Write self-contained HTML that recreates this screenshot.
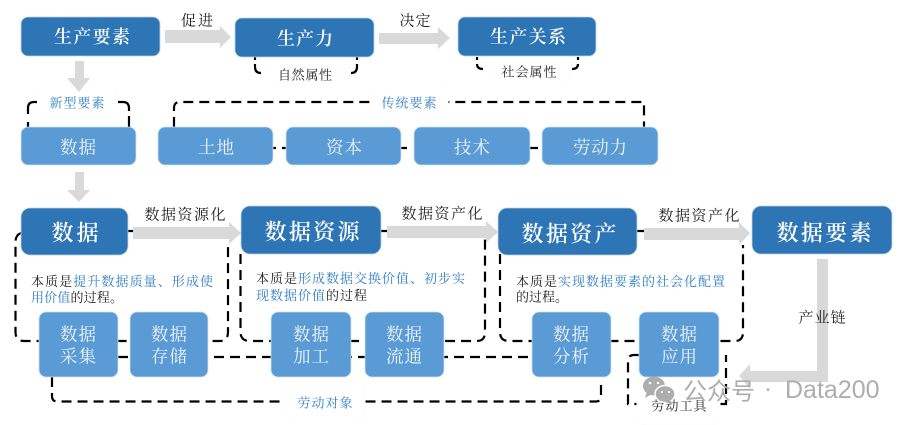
<!DOCTYPE html>
<html><head><meta charset="utf-8"><style>
html,body{margin:0;padding:0;background:#fff}
svg{display:block}
text{font-family:"Noto Serif CJK SC","Liberation Serif",serif;text-anchor:middle;dominant-baseline:central}
.d{fill:none;stroke:#000;stroke-width:2.200;stroke-dasharray:10 6}
.s{fill:none;stroke:#000;stroke-width:2.200}
.w{fill:#fff;stroke:#fcfcfc;stroke-width:1}
.a{fill:#d9d9d9}
.dk{fill:#2e75b6;stroke:#bcd4ea;stroke-width:.8}
.lt{fill:#5b9bd5;stroke:#d0e2f2;stroke-width:.8}
.t1{fill:#fff;font-weight:600}
.t2{fill:#eef4fa;font-size:17.500px}
.k{fill:#222}
.b{fill:#2e7fc6}
</style></head><body>
<svg width="908" height="425" viewBox="0 0 908 425" xmlns="http://www.w3.org/2000/svg">
<!-- dashed -->
<path class="s" d="M28 114V108Q28 102 34 102H37M118 102H123Q129 102 129 108V111"/>
<path class="s" d="M28 122V127M129 116V127"/>
<path class="d" d="M174 127V108Q174 102 180 102H644V127"/>
<path class="s" d="M255 57V60M255 64V67Q255 73 261 73M351 73Q357 73 357 67V64M357 60V57"/>
<path class="s" d="M477 57V60M477 64Q477 69 483 69M572 69Q578 69 578 64M578 60V57"/>
<path class="s" d="M273 148H276M282 148H286M401 148H407M530 148H538"/>
<path class="d" d="M128 231H134M21 233Q15.500 235 15.500 242V332Q15.500 341 24 341H220Q228 341 228 332V245"/>
<path class="d" d="M381 231H387M240.500 254V332Q240.500 341 250 341H477Q485 341 485 332V238"/>
<path class="d" d="M637 231H644M500 254V332Q500 341 509 341H735Q743 341 743 332V245"/>
<path class="d" d="M118 357H532"/>
<path class="d" d="M52 377V396Q52 401.500 57 401.500H596Q601 401.500 601 396V381"/>
<path class="d" d="M639 355H634Q628 355 628 361V404H637M720 404H726V355"/>
<!-- white label backgrounds -->
<rect class="w" x="38" y="82" width="79" height="38" rx="8"/>
<rect class="w" x="370" y="82" width="78" height="38" rx="8"/>
<rect class="w" x="264" y="62" width="79" height="22" rx="6"/>
<rect class="w" x="490" y="60" width="79" height="22" rx="6"/>
<rect class="w" x="286" y="382" width="78" height="39" rx="8"/>
<rect class="w" x="637" y="395" width="83" height="30" rx="8"/>
<!-- arrows -->
<path class="a" d="M165 30H220V26L231 37L220 48V43H165Z"/>
<path class="a" d="M379 33H438V27L450 38L438 49V44H379Z"/>
<path class="a" d="M75 61H84V78H90L79 92L67 78H75Z"/>
<path class="a" d="M75 172H84V190H90L79 202L67 190H75Z"/>
<path class="a" d="M133 227H229V222L241 233L229 244V239H133Z"/>
<path class="a" d="M387 226H486V221L498 232L486 243V238H387Z"/>
<path class="a" d="M644 228H739V222L750 233L739 245V240H644Z"/>
<path class="a" d="M817 259H828V382H750V389L739 376L750 364V371H817Z"/>
<!-- dark boxes -->
<rect class="dk" x="21" y="17" width="139" height="39" rx="7"/>
<rect class="dk" x="235" y="18" width="139" height="39" rx="7"/>
<rect class="dk" x="458" y="17" width="138" height="39" rx="7"/>
<rect class="dk" x="21" y="208" width="107" height="47" rx="9"/>
<rect class="dk" x="241" y="206" width="140" height="48" rx="9"/>
<rect class="dk" x="498" y="208" width="139" height="47" rx="9"/>
<rect class="dk" x="752" y="206" width="140" height="48" rx="9"/>
<!-- light boxes -->
<rect class="lt" x="21" y="127" width="115" height="38" rx="7"/>
<rect class="lt" x="158" y="127" width="115" height="38" rx="7"/>
<rect class="lt" x="286" y="127" width="115" height="38" rx="7"/>
<rect class="lt" x="414" y="127" width="116" height="38" rx="7"/>
<rect class="lt" x="542" y="127" width="116" height="38" rx="7"/>
<rect class="lt" x="39" y="312" width="79" height="65" rx="7"/>
<rect class="lt" x="130" y="312" width="78" height="65" rx="7"/>
<rect class="lt" x="271" y="312" width="80" height="65" rx="7"/>
<rect class="lt" x="365" y="312" width="79" height="65" rx="7"/>
<rect class="lt" x="532" y="312" width="79" height="65" rx="7"/>
<rect class="lt" x="639" y="312" width="80" height="65" rx="7"/>
<!-- top row text -->
<text class="t1" x="92" y="36" font-size="18" textLength="76">生产要素</text>
<text class="t1" x="305" y="38" font-size="18" textLength="56">生产力</text>
<text class="t1" x="528" y="36" font-size="18" textLength="76">生产关系</text>
<text class="k" x="197" y="20" font-size="15" textLength="32">促进</text>
<text class="k" x="415" y="20" font-size="15" textLength="31">决定</text>
<text class="k" x="305" y="74" font-size="13" textLength="54">自然属性</text>
<text class="k" x="529" y="71" font-size="13" textLength="55">社会属性</text>
<text class="b" x="77" y="102" font-size="13" textLength="55">新型要素</text>
<text class="b" x="409" y="102" font-size="13" textLength="55">传统要素</text>
<!-- row 2 -->
<text class="t2" x="78" y="147" textLength="36">数据</text>
<text class="t2" x="216" y="147" textLength="36">土地</text>
<text class="t2" x="344" y="147" textLength="36">资本</text>
<text class="t2" x="472" y="147" textLength="36">技术</text>
<text class="t2" x="600" y="147" textLength="54">劳动力</text>
<!-- row 3 -->
<text class="t1" x="75" y="232" font-size="22" textLength="47">数据</text>
<text class="t1" x="312" y="231" font-size="22" textLength="95">数据资源</text>
<text class="t1" x="569" y="233" font-size="22" textLength="95">数据资产</text>
<text class="t1" x="824" y="232" font-size="22" textLength="95">数据要素</text>
<text class="k" x="185" y="214" font-size="15" textLength="81">数据资源化</text>
<text class="k" x="442" y="213" font-size="15" textLength="81">数据资产化</text>
<text class="k" x="699" y="215" font-size="15" textLength="81">数据资产化</text>
<!-- descriptions -->
<g font-size="13">
<text x="31" y="280" style="text-anchor:start" textLength="182"><tspan class="k">本质是</tspan><tspan class="b">提升数据质量、形成使</tspan></text>
<text x="31" y="296" style="text-anchor:start" textLength="92"><tspan class="b">用价值</tspan><tspan class="k">的过程。</tspan></text>
<text x="256" y="277" style="text-anchor:start" textLength="209"><tspan class="k">本质是</tspan><tspan class="b">形成数据交换价值、初步实</tspan></text>
<text x="256" y="294" style="text-anchor:start" textLength="111"><tspan class="b">现数据价值</tspan><tspan class="k">的过程</tspan></text>
<text x="516" y="280" style="text-anchor:start" textLength="209"><tspan class="k">本质是</tspan><tspan class="b">实现数据要素的社会化配置</tspan></text>
<text class="k" x="516" y="296" style="text-anchor:start" textLength="52">的过程。</text>
</g>
<!-- small boxes -->
<text class="t2" x="78" y="334" textLength="36">数据</text><text class="t2" x="78" y="356" textLength="36">采集</text>
<text class="t2" x="169" y="334" textLength="36">数据</text><text class="t2" x="169" y="356" textLength="36">存储</text>
<text class="t2" x="311" y="334" textLength="36">数据</text><text class="t2" x="311" y="356" textLength="36">加工</text>
<text class="t2" x="404" y="334" textLength="36">数据</text><text class="t2" x="404" y="356" textLength="36">流通</text>
<text class="t2" x="571" y="334" textLength="36">数据</text><text class="t2" x="571" y="356" textLength="36">分析</text>
<text class="t2" x="679" y="334" textLength="36">数据</text><text class="t2" x="679" y="356" textLength="36">应用</text>
<text class="b" x="325" y="402" font-size="13" textLength="55">劳动对象</text>
<text class="k" x="679" y="405" font-size="13" textLength="55">劳动工具</text>
<text class="k" x="822" y="317" font-size="15" textLength="47">产业链</text>
<!-- watermark -->
<g fill="#adadad">
<ellipse cx="654" cy="386" rx="11" ry="9.500"/>
<path d="M647 392L645 398L652 394Z"/>
<ellipse cx="665" cy="394" rx="10" ry="8.500" stroke="#fff" stroke-width="1.500"/>
<path d="M670 400L673 405L665 402Z"/>
</g>
<g fill="#fff"><circle cx="650" cy="383" r="1.300"/><circle cx="658" cy="383" r="1.300"/><circle cx="662" cy="392" r="1.100"/><circle cx="669" cy="392" r="1.100"/></g>
<g fill="#adadad" style="font-size:24px">
<text x="683" y="389" style="text-anchor:start;font-family:'Noto Sans CJK SC',sans-serif" textLength="72">公众号</text>
<text x="768" y="389" style="font-family:'Liberation Sans',sans-serif">·</text>
<text x="785" y="390" style="text-anchor:start;font-family:'Liberation Sans',sans-serif;font-size:25px">Data200</text>
</g>
</svg>
</body></html>
